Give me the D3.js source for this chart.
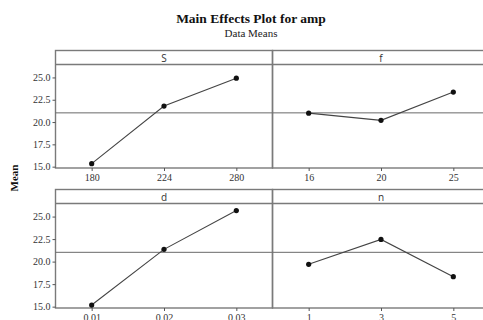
<!DOCTYPE html>
<html>
<head>
<meta charset="utf-8">
<script src="https://cdn.jsdelivr.net/npm/d3@7"></script>
<style>
  body { margin: 0; background: #fff; }
  text { font-family: "Liberation Serif", "Times New Roman", serif; }
  .strip-label { font-family: "Open Sans", "DejaVu Sans", sans-serif; }
</style>
</head>
<body>
<div id="chart"></div>
<script>
// factors and their levels
let factors = ["S", "f", "d", "n"];
let levelsS = ["180", "224", "280"];
let levelsF = ["16", "20", "25"];
let levelsD = ["0.01", "0.02", "0.03"];
let levelsN = ["1", "3", "5"];

// mean of amp at each level
let meansS = [15.34, 21.79, 24.92];
let meansF = [21.0, 20.19, 23.36];
let meansD = [15.18, 21.36, 25.67];
let meansN = [19.70, 22.46, 18.33];

let grandMean = 21.03;
let yTicks = [15.0, 17.5, 20.0, 22.5, 25.0];

function mainEffects(width, height, selector) {

  let panels = [
    { name: factors[0], levels: levelsS, means: meansS, col: 0, row: 0 },
    { name: factors[1], levels: levelsF, means: meansF, col: 1, row: 0 },
    { name: factors[2], levels: levelsD, means: meansD, col: 0, row: 1 },
    { name: factors[3], levels: levelsN, means: meansN, col: 1, row: 1 }
  ];

  // panel layout
  let left = 55.5;
  let panelWidth = 217;
  let stripHeight = 14;
  let rows = [
    { top: 50.5, bottom: 168 },
    { top: 189.5, bottom: 308 }
  ];

  let svg = d3.select(selector)
    .append("svg")
    .attr("width", width)
    .attr("height", height);

  svg.append("text")
    .attr("x", 251)
    .attr("y", 23)
    .attr("text-anchor", "middle")
    .attr("font-size", 13.5)
    .attr("font-weight", "bold")
    .attr("fill", "#111")
    .text("Main Effects Plot for amp");

  svg.append("text")
    .attr("x", 251)
    .attr("y", 37)
    .attr("text-anchor", "middle")
    .attr("font-size", 11)
    .attr("fill", "#222")
    .text("Data Means");

  svg.append("text")
    .attr("transform", "translate(18,178) rotate(-90)")
    .attr("text-anchor", "middle")
    .attr("font-size", 11)
    .attr("font-weight", "bold")
    .attr("fill", "#111")
    .text("Mean");

  let borderColor = "#7a7a7a";

  panels.forEach(p => {
    let r = rows[p.row];
    let x0 = left + p.col * panelWidth;
    let plotTop = r.top + stripHeight;

    let xScale = d3.scalePoint()
      .domain(p.levels)
      .range([x0, x0 + panelWidth])
      .padding(0.5);

    let yScale = d3.scaleLinear()
      .domain([14.85, 26.45])
      .range([r.bottom, plotTop]);

    let g = svg.append("g").attr("class", "panel");

    // panel box and strip
    g.append("rect")
      .attr("x", x0)
      .attr("y", r.top)
      .attr("width", panelWidth)
      .attr("height", r.bottom - r.top)
      .attr("fill", "none")
      .attr("stroke", borderColor)
      .attr("stroke-width", 1.4);

    g.append("line")
      .attr("x1", x0).attr("x2", x0 + panelWidth)
      .attr("y1", plotTop).attr("y2", plotTop)
      .attr("stroke", borderColor)
      .attr("stroke-width", 1.4);

    g.append("text")
      .attr("class", "strip-label")
      .attr("x", x0 + panelWidth / 2)
      .attr("y", plotTop - 3)
      .attr("text-anchor", "middle")
      .attr("font-size", 10)
      .attr("fill", "#333")
      .text(p.name);

    // grand mean reference line
    g.append("line")
      .attr("x1", x0).attr("x2", x0 + panelWidth)
      .attr("y1", yScale(grandMean)).attr("y2", yScale(grandMean))
      .attr("stroke", "#6a6a6a")
      .attr("stroke-width", 1);

    // x axis
    let xAxis = d3.axisBottom(xScale)
      .tickSize(3)
      .tickPadding(3);

    let xg = g.append("g")
      .attr("transform", "translate(0," + r.bottom + ")")
      .call(xAxis);
    xg.select(".domain").remove();
    xg.selectAll(".tick line").attr("stroke", "#555");
    xg.selectAll(".tick text")
      .attr("font-family", "Liberation Serif, serif")
      .attr("font-size", 10)
      .attr("fill", "#333");

    // y axis only on the left column
    if (p.col === 0) {
      let yAxis = d3.axisLeft(yScale)
        .tickValues(yTicks)
        .tickFormat(d3.format(".1f"))
        .tickSize(3)
        .tickPadding(2);

      let yg = g.append("g")
        .attr("transform", "translate(" + x0 + ",0)")
        .call(yAxis);
      yg.select(".domain").remove();
      yg.selectAll(".tick line").attr("stroke", "#555");
      yg.selectAll(".tick text")
        .attr("font-family", "Liberation Serif, serif")
        .attr("font-size", 10)
        .attr("fill", "#333");
    }

    // connecting line and points
    let pts = p.levels.map((lv, i) => ({ level: lv, mean: p.means[i] }));

    let line = d3.line()
      .x(d => xScale(d.level))
      .y(d => yScale(d.mean));

    g.append("path")
      .datum(pts)
      .attr("d", line)
      .attr("fill", "none")
      .attr("stroke", "#444")
      .attr("stroke-width", 1.1);

    g.selectAll("circle")
      .data(pts)
      .join("circle")
      .attr("cx", d => xScale(d.level))
      .attr("cy", d => yScale(d.mean))
      .attr("r", 2.6)
      .attr("fill", "#111");
  });
}

mainEffects(483, 320, "#chart");
</script>
</body>
</html>
